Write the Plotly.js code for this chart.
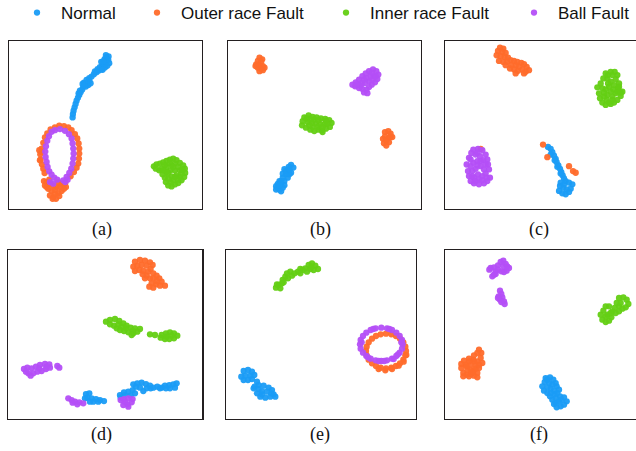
<!DOCTYPE html>
<html>
<head>
<meta charset="utf-8">
<script src="https://cdn.plot.ly/plotly-3.0.1.min.js"></script>
<style>
  html, body { margin: 0; padding: 0; overflow: hidden; background: #fff; }
  #chart { width: 640px; height: 463px; margin-top: -12px; }
</style>
</head>
<body>
<div id="chart"></div>
<script>
// Class names (legend) and colours
const classNames = ["Normal", "Outer race Fault", "Inner race Fault", "Ball Fault"];
const classColors = ["#1a9cf5", "#ff6b2b", "#64cf14", "#b44ff7"];
const panelLabels = ["(a)", "(b)", "(c)", "(d)", "(e)", "(f)"];

// 2-D embedding points per panel and class, as [x, y] pairs (y grows downward)
// ---- (a)
const aNormal = [[218,262],[219,252],[221,242],[224,232],[227,222],[230,212],[234,203],[238,195],[242,187],[247,179],[240,182],[236,190],
  [250,170],[256,163],[262,158],[268,152],[252,158],[260,150],[268,145],[275,140],[265,165],[258,170],[272,160],[248,162],
  [282,133],[290,127],[297,122],[304,118],[285,125],[293,118],[300,112],[307,108],[312,103],[316,98],[320,93],[314,88],[320,82],
  [326,80],[318,76],[325,90],[328,100],[322,108],[315,113],[308,120],[304,96],[310,95]];
const aOuter = [[165,292],[178,287],[192,288],[205,292],[215,300],[225,312],[232,325],[236,340],[238,355],[238,370],[237,385],[235,400],
  [230,412],[222,425],[212,438],[152,298],[142,310],[135,322],[130,338],[125,355],[121,372],[122,388],[126,402],[130,415],[134,428],
  [118,360],[120,390],[125,365],
  [140,455],[150,460],[160,465],[170,470],[180,470],[190,465],[196,458],[135,465],[145,475],[155,482],[165,490],[175,488],[185,482],
  [192,475],[160,500],[168,505],[150,495],[178,497],[148,448],[140,470],[175,455],[165,478],[185,460],[132,452],[198,470],[158,505]];
const aInner = [[462,408],[470,402],[480,400],[490,396],[500,392],[510,388],[520,385],[530,390],[540,398],[550,405],[555,415],[556,428],
  [553,440],[545,450],[535,458],[525,462],[515,468],[505,465],[498,455],[495,442],[488,432],[478,420],[468,415],[500,410],[515,405],
  [525,400],[512,420],[525,420],[540,420],[530,435],[515,438],[520,450],[505,428],[540,440],[545,430],[500,425],
  [485,415],[495,405],[510,398],[520,410],[535,410],[548,418],[535,448],[525,440],[512,455],[505,445],[490,420]];
const aBall = [[165,300],[180,297],[195,302],[207,312],[215,325],[218,340],[220,355],[221,370],[220,385],[218,400],[214,415],[208,428],
  [200,440],[190,450],[155,305],[147,318],[142,332],[138,348],[136,364],[137,380],[140,395],[143,410],[148,423],[155,433],[163,442],
  [172,448],[160,460],[150,455],[203,448],[196,455]];
// ---- (b)
const bNormal = [[235,402],[242,410],[228,408],[215,415],[225,420],[235,425],[220,430],[210,440],[225,440],[215,450],[200,450],[195,458],
  [190,465],[205,462],[215,462],[200,475],[210,470],[190,475],[205,480],[230,430],[210,428],[195,470],
  [220,420],[205,450],[200,462],[230,415]];
const bOuter = [[140,85],[148,90],[135,95],[145,98],[130,105],[140,108],[150,110],[135,115],[145,118],[155,115],[140,125],[150,122],[128,110],
  [518,305],[528,302],[535,310],[540,320],[530,322],[518,318],[512,325],[522,330],[530,335],[515,338],[522,345],[535,318]];
const bInner = [[275,262],[288,256],[300,260],[312,262],[325,265],[338,266],[350,270],[357,278],[352,290],[340,295],[328,300],[318,298],
  [305,302],[293,298],[280,292],[268,285],[270,273],[285,275],[298,278],[310,280],[322,282],[336,282],[300,290],[315,290],[330,305],[330,290],
  [290,285],[305,268],[318,270],[345,280],[340,272],[283,265],[295,268]];
const bBall = [[470,125],[482,120],[492,125],[498,135],[495,148],[488,158],[478,165],[470,172],[462,180],[455,188],[465,190],[450,178],
  [440,175],[428,170],[420,165],[430,158],[440,150],[450,140],[460,132],[475,140],[485,140],[470,155],[458,160],[448,160],[438,165],
  [480,150],[462,145],[445,168],[455,150],[490,140],[478,130],[432,165]];
// ---- (c)
const cNormal = [[372,352],[380,358],[385,368],[390,378],[395,388],[398,398],[403,408],[408,418],[412,428],[416,438],[420,447],[410,432],
  [400,412],[392,392],[380,375],[425,455],[435,460],[445,465],[440,478],[428,480],[418,475],[408,470],[405,485],[415,492],[425,495],
  [435,488],[410,460],[420,465]];
const cOuter = [[228,52],[238,55],[222,62],[235,65],[245,68],[218,75],[230,78],[242,80],[252,82],[225,92],[238,95],[250,95],[260,90],
  [270,92],[280,95],[292,98],[300,102],[308,110],[315,120],[305,125],[295,118],[285,110],[275,105],[262,105],[270,118],[282,122],
  [275,130],[258,115],[245,105],[300,130],
  [170,358],[357,345],[370,383],[435,410],[447,425],[455,430]];
const cInner = [[545,130],[560,125],[572,125],[580,135],[575,148],[585,160],[595,185],[590,198],[580,210],[570,218],[560,222],[545,225],
  [535,218],[528,205],[525,190],[520,172],[530,160],[538,145],[550,145],[560,155],[570,165],[555,170],[545,178],[560,185],[575,190],
  [550,195],[565,200],[540,200],[548,210],[582,175],[535,175],
  [565,135],[552,135],[568,178],[580,185],[590,188],[540,188],[552,160],[565,210],[555,218],[585,170]];
const cBall = [[148,360],[162,358],[175,362],[185,375],[190,390],[192,405],[195,420],[198,445],[190,455],[180,462],[165,465],[150,462],
  [140,455],[135,440],[132,425],[128,405],[135,385],[142,370],[155,375],[168,380],[178,392],[160,395],[148,400],[170,410],[155,418],
  [145,425],[180,420],[162,435],[175,440],[150,445],[185,432],[165,450],
  [160,370],[170,395],[185,405],[140,410],[160,408],[145,440],[175,452],[155,455],[188,445],[140,390]];
// ---- (d)
const dNormal = [[400,418],[412,415],[425,413],[438,417],[450,422],[460,428],[472,425],[485,428],[495,422],[508,420],[520,418],[530,415],
  [525,428],[510,430],[498,430],[480,430],[452,430],[430,438],[440,430],[420,428],[408,425],
  [360,450],[372,442],[385,440],[398,435],[405,445],[392,452],[375,450],[362,458],
  [258,447],[268,445],[262,458],[275,460],[288,462],[300,465],[312,468],[280,470],[295,470],[255,460],[270,470]];
const dOuter = [[405,50],[420,45],[435,47],[450,52],[458,60],[400,65],[412,62],[425,60],[440,62],[452,72],[405,78],[418,75],[430,78],
  [445,80],[460,85],[470,92],[478,100],[485,110],[495,122],[480,122],[468,118],[455,115],[448,125],[460,128],[470,108],[440,92],
  [450,100],[435,100],[460,100],[428,88]];
const dInner = [[318,230],[330,225],[345,222],[358,228],[370,235],[380,242],[392,248],[405,250],[420,252],[412,260],[400,265],[385,262],
  [372,258],[360,255],[350,250],[342,242],[330,238],[365,245],[398,258],[395,270],[378,250],[355,238],
  [450,268],[465,270],[485,270],[498,265],[510,262],[522,265],[532,272],[522,280],[508,282],[495,282],[482,278],[500,275],[515,272]];
const dBall = [[72,372],[82,368],[95,370],[108,365],[120,360],[135,357],[148,358],[150,368],[138,372],[125,378],[112,380],[100,385],
  [92,392],[85,385],[78,380],[172,363],[178,368],[140,365],[118,370],
  [205,460],[215,465],[225,470],[238,472],[250,475],[232,478],[218,473],
  [362,465],[372,462],[385,460],[398,462],[395,472],[382,478],[370,480],[385,485],[375,470]];
// ---- (e)
const eNormal = [[95,378],[108,375],[120,380],[127,390],[115,392],[100,392],[88,395],[95,405],[108,405],[120,402],[135,410],[128,425],
  [140,420],[155,422],[170,428],[180,435],[185,448],[190,455],[175,455],[160,458],[145,455],[135,445],[125,430],[150,438],[165,440],
  [150,448],[140,432],[178,445]];
const eOuter = [[582,318],[580,305],[574,292],[564,281],[552,273],[538,268],[522,266],[506,268],[492,273],[480,281],[470,292],[464,305],
  [462,318],[464,331],[470,344],[480,355],[492,363],[506,368],[522,370],[538,368],[552,363],[564,355],[574,344],[580,331],
  [500,372],[520,376],[540,372],[560,362],[575,350],[583,330]];
const eInner = [[192,128],[200,120],[210,115],[195,118],[205,130],[212,105],[220,95],[225,85],[235,80],[240,92],[228,100],[215,112],
  [248,85],[258,80],[265,72],[272,75],[265,85],[280,70],[290,60],[300,55],[310,62],[318,72],[305,75],[295,72],[285,80],[298,65]];
const eBall = [[572,298],[570,285],[563,273],[553,263],[540,255],[525,250],[508,248],[491,250],[476,255],[463,263],[453,273],[446,285],
  [444,298],[446,311],[453,323],[463,333],[476,341],[491,346],[508,348],[525,346],[540,341],[553,333],[563,323],[570,311],[545,342],
  [532,252],[484,252],[449,292],[568,292],[468,337],[500,348],[517,348],[558,328]];
// ---- (f)
const fNormal = [[365,400],[378,398],[388,405],[385,420],[398,425],[405,435],[375,415],[362,412],[355,425],[360,438],[370,445],[378,455],
  [385,465],[390,478],[398,488],[410,485],[420,480],[428,470],[420,458],[408,455],[395,460],[380,432],[392,448],[405,470],[370,428],
  [370,405],[395,415],[390,438],[400,445],[412,465],[395,475],[380,445]];
const fOuter = [[165,315],[172,325],[160,325],[150,332],[170,340],[175,355],[160,350],[148,345],[135,342],[120,348],[112,358],[125,360],
  [140,360],[155,362],[165,370],[160,385],[150,393],[140,388],[128,390],[118,385],[112,370],[130,375],[148,378],[118,395],[160,398],[150,350],
  [135,350],[128,365],[140,375],[155,372],[145,385],[135,395],[165,360]];
const fInner = [[585,160],[598,158],[608,165],[613,178],[605,188],[595,192],[585,185],[578,175],[590,175],[572,190],[565,200],[555,185],
  [545,185],[538,198],[530,210],[535,225],[545,232],[555,228],[562,218],[575,205],[585,200],[550,210],[560,205],[545,215]];
const fBall = [[200,70],[210,68],[222,62],[230,52],[238,48],[245,58],[255,70],[248,78],[240,82],[232,80],[222,75],[215,80],[210,90],
  [205,95],[215,88],[238,65],[250,65],[196,75],
  [228,138],[232,148],[224,155],[235,158],[228,165],[240,170],[242,178],[232,172],[222,160]];

const panelData = [
  [aNormal, aOuter, aInner, aBall],
  [bNormal, bOuter, bInner, bBall],
  [cNormal, cOuter, cInner, cBall],
  [dNormal, dOuter, dInner, dBall],
  [eNormal, eOuter, eInner, eBall],
  [fNormal, fOuter, fInner, fBall]
];

// Axis extents of each panel in embedding units: [xmin, xmax, ymax(bottom), ymin(top)]
const panelRanges = [
  [28, 605, 534, 33],
  [45, 626, 531, 35],
  [64, 641, 538, 31],
  [25, 607, 521, 15],
  [43, 612, 521, 15],
  [64, 641, 522, 16]
];

// Page layout (pixels on the visible page): frame boxes [left, right, top, bottom] and label centres.
// The figure is drawn OFF pixels taller and shifted up so the legend row can sit close to the top edge.
const OFF = 12;
const W = 640, H = 451 + OFF;
const boxes = [
  [9.3, 201.5, 40.7, 208.5],
  [228, 420.8, 40.7, 208.5],
  [445.3, 637.7, 40.7, 208.5],
  [8.3, 202.3, 250, 418.7],
  [226.3, 416, 250, 418.7],
  [445.3, 637.7, 250, 418.7]
];
const labelPos = [[101.7, 230], [320, 230], [539, 230], [101.7, 434], [320, 434], [539, 434]];
const legendMarkerX = [33, 153, 342, 530];
const legendRowY = 13;

const py = v => 1 - (v + OFF) / H;   // page y (px) -> paper fraction

const traces = [];
const layout = {
  width: W, height: H,
  margin: {l: 0, r: 0, t: 0, b: 0},
  paper_bgcolor: "#fff", plot_bgcolor: "#fff",
  showlegend: true,
  annotations: []
};

panelData.forEach((sets, p) => {
  const idx = p === 0 ? "" : String(p + 1);
  const [l, r, t, b] = boxes[p];
  const rg = panelRanges[p];
  const axisCommon = {
    showgrid: false, zeroline: false, showticklabels: false, ticks: "",
    showline: true, mirror: true, linecolor: "#231f20", linewidth: 1.2,
    fixedrange: true
  };
  layout["xaxis" + idx] = Object.assign({}, axisCommon, {
    domain: [l / W, r / W], range: [rg[0], rg[1]], anchor: "y" + idx
  });
  layout["yaxis" + idx] = Object.assign({}, axisCommon, {
    domain: [py(b), py(t)], range: [rg[2], rg[3]], anchor: "x" + idx
  });
  sets.forEach((pts, c) => {
    traces.push({
      type: "scatter", mode: "markers",
      x: pts.map(q => q[0]), y: pts.map(q => q[1]),
      xaxis: "x" + idx, yaxis: "y" + idx,
      name: classNames[c],
      marker: {color: classColors[c], size: 6.3, opacity: 0.95, line: {width: 0}},
      showlegend: p === 0,
      legend: c === 0 ? "legend" : "legend" + (c + 1),
      hoverinfo: "skip"
    });
  });
  layout.annotations.push({
    xref: "paper", yref: "paper",
    x: labelPos[p][0] / W, y: py(labelPos[p][1]),
    xanchor: "center", yanchor: "middle", showarrow: false,
    text: panelLabels[p],
    font: {family: "Liberation Serif, Times New Roman, serif", size: 18, color: "#111"}
  });
});

// One legend per class so each entry sits at its own position along the top
classNames.forEach((n, c) => {
  const key = c === 0 ? "legend" : "legend" + (c + 1);
  layout[key] = {
    orientation: "h",
    x: (legendMarkerX[c] - 20) / W, y: py(legendRowY),
    xanchor: "left", yanchor: "middle",
    itemwidth: 38,
    bgcolor: "rgba(0,0,0,0)", borderwidth: 0,
    font: {family: "Liberation Sans, Arial, sans-serif", size: 17, color: "#111"}
  };
});

Plotly.newPlot("chart", traces, layout, {staticPlot: true, displayModeBar: false});
</script>
</body>
</html>
